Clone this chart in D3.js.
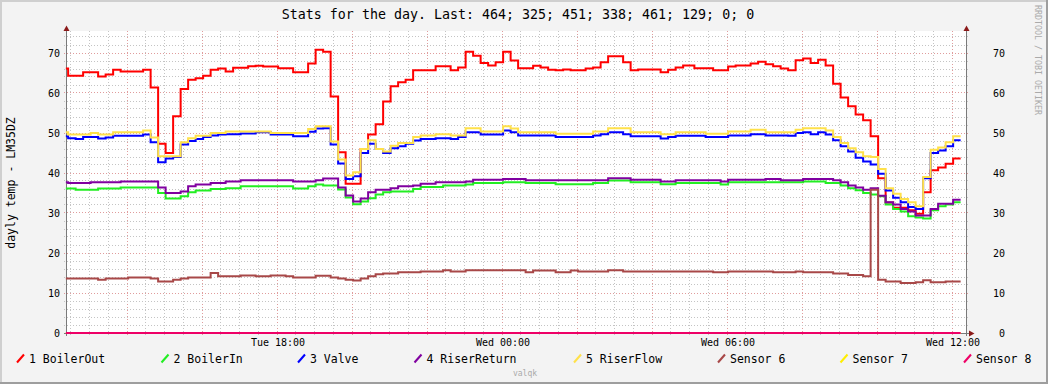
<!DOCTYPE html>
<html><head><meta charset="utf-8">
<script src="https://cdn.jsdelivr.net/npm/d3@7"></script>
<style>
html,body{margin:0;padding:0;background:#F3F3F3;}
svg{display:block;}
text{font-family:"DejaVu Sans Mono",monospace;}
</style>
</head><body>
<svg id="chart" width="1048" height="384"></svg>
<script>
// ---------------- DATA ----------------
const titleText = "Stats for the day. Last: 464; 325; 451; 338; 461; 129; 0; 0";
const yAxisTitle = "dayly temp - LM35DZ";
const seriesNames = ["1 BoilerOut","2 BoilerIn","3 Valve","4 RiserReturn","5 RiserFlow","Sensor 6","Sensor 7","Sensor 8"];
const yTickValues = [0,10,20,30,40,50,60,70];
const xTickHours = [18,24,30,36];           // hours since Tue 00:00
const xTickLabels = ["Tue 18:00","Wed 00:00","Wed 06:00","Wed 12:00"];
const timeStart = 12.3733, timeEnd = 36.3733; // window shown (hours since Tue 00:00)

// [hours since Tue 00:00, value]
const boilerOut = [[12.37,66.1],[12.43,64.3],[12.83,65.2],[13.23,64.1],[13.43,64.6],[13.63,65.8],[13.83,65.4],[14.43,65.8],[14.63,61.4],[14.83,47.3],[15.03,45],[15.23,54.2],[15.43,61],[15.63,63.3],[15.83,63.7],[16.03,64.3],[16.23,65.8],[16.43,66.1],[16.63,65.4],[16.83,66.3],[17.23,66.7],[17.43,66.8],[17.63,66.6],[18.03,66.2],[18.43,65.2],[18.83,67.4],[19.03,70.8],[19.23,70.3],[19.43,59.1],[19.63,45.2],[19.83,37.3],[20.23,46],[20.43,49.6],[20.63,52.2],[20.83,57.9],[21.03,61.7],[21.23,62.7],[21.43,63.3],[21.63,65.7],[22.23,66.7],[22.63,65.7],[22.83,66.4],[23.03,70.3],[23.23,69.3],[23.43,67.5],[23.63,66.9],[23.83,67.7],[24.03,70.3],[24.23,68.1],[24.43,66.2],[24.83,66.8],[25.03,66.4],[25.23,65.8],[25.43,65.7],[25.63,65.9],[25.83,65.7],[26.23,66.1],[26.43,66.4],[26.63,67.7],[26.83,69.2],[27.23,67.7],[27.43,65.7],[27.63,65.9],[28.23,65.2],[28.43,65.8],[28.63,66.4],[28.83,66.9],[29.13,66.2],[29.63,65.7],[30.03,66.6],[30.23,66.9],[30.63,67.4],[30.83,67.8],[31.03,67.2],[31.23,66.7],[31.43,66.1],[31.63,65.7],[31.83,68.2],[32.03,68.6],[32.23,67.5],[32.43,68.3],[32.63,66.9],[32.83,62.3],[33.03,58.9],[33.23,56.7],[33.43,54.6],[33.63,53.2],[33.83,49.2],[34.03,38.7],[34.23,32.6],[34.43,31.3],[34.83,30.7],[35.03,29.8],[35.23,35.2],[35.43,40.7],[35.63,41.4],[35.83,42.3],[36.03,43.6],[36.23,43.6]];

const boilerIn = [[12.37,36.1],[12.63,35.8],[13.23,36.1],[13.83,36.4],[14.83,35],[15.03,33.6],[15.43,34.2],[15.63,35.2],[15.83,35.6],[16.23,36],[16.63,36.2],[17.03,36.7],[18.43,36.1],[18.83,36.7],[19.03,37.1],[19.23,36.9],[19.63,35.9],[19.83,33.9],[20.03,32.2],[20.23,32.9],[20.43,33.7],[20.63,34.6],[20.83,35.2],[21.03,35.4],[21.63,36],[21.83,36.5],[22.43,36.9],[23.03,37.1],[23.23,37.5],[24.03,37.7],[24.63,37.5],[25.43,37.2],[26.43,37.5],[26.83,38.1],[27.43,37.7],[28.23,37.2],[28.63,37.5],[29.83,37.1],[30.03,37.7],[32.03,37.9],[32.63,37.5],[33.03,36.9],[33.23,36.2],[33.43,35.7],[33.63,35],[33.83,34.6],[34.03,34.2],[34.23,32.1],[34.43,31],[34.63,30.4],[34.83,29.2],[35.03,28.9],[35.23,28.6],[35.43,30.7],[35.63,31.7],[35.83,32.1],[36.03,32.7],[36.23,32.7]];

const valve = [[12.37,49.2],[12.43,48.7],[12.63,48.5],[12.83,49],[13.23,48.6],[13.43,48.9],[13.63,49.3],[14.43,49.6],[14.63,47.7],[14.83,42.7],[15.03,43.6],[15.23,44],[15.43,47.1],[15.63,48],[15.83,48.5],[16.03,49],[16.23,49.4],[16.43,49.6],[16.63,49.7],[17.03,49.9],[17.43,50.2],[17.83,49.6],[18.43,49.2],[18.83,50.3],[19.03,51.1],[19.23,51.2],[19.43,47.1],[19.63,42.4],[19.83,38.5],[20.03,39.2],[20.23,45],[20.43,47.3],[20.63,46],[20.83,45],[21.03,46.2],[21.23,46.7],[21.43,47.3],[21.63,48.1],[21.83,48.5],[22.23,48.7],[22.63,48.5],[22.83,49],[23.03,50.2],[23.43,49.6],[24.03,50.6],[24.23,50.2],[24.43,49.4],[25.43,49],[26.43,49.4],[26.63,49.7],[26.83,50.2],[27.23,49.7],[27.43,49.2],[28.23,48.6],[28.43,49],[28.63,49.3],[29.43,49],[30.03,49.4],[30.63,49.7],[31.03,49.4],[31.63,49.3],[31.83,50],[32.03,50.2],[32.23,49.7],[32.43,50.2],[32.63,49.6],[32.83,48.2],[33.03,46.7],[33.23,45.4],[33.43,43.8],[33.63,42.9],[33.83,42.1],[34.03,39.8],[34.23,35.6],[34.43,33.8],[34.63,32.7],[34.83,31.5],[35.03,31],[35.23,38.7],[35.43,45],[35.63,45.6],[35.83,46.7],[36.03,48.2],[36.23,48.2]];

const riserReturn = [[12.37,37.7],[12.43,37.5],[13.03,37.7],[13.83,37.9],[14.83,36.4],[15.03,35],[15.43,35.4],[15.63,36.7],[15.83,37.1],[16.23,37.5],[16.63,37.9],[17.03,38.2],[18.43,37.9],[19.03,38.2],[19.23,38.6],[19.63,36.4],[19.83,34.4],[20.03,32.9],[20.23,33.6],[20.43,35.2],[20.63,35.8],[21.03,36.2],[21.23,36.7],[21.63,36.9],[21.83,37.3],[22.23,37.7],[23.03,37.9],[23.23,38.3],[24.03,38.5],[24.63,38.2],[26.83,38.7],[27.43,38.3],[28.23,37.9],[28.63,38.2],[29.83,37.9],[30.03,38.3],[31.03,38.5],[31.43,38.2],[32.03,38.5],[32.83,38.2],[33.03,37.7],[33.23,36.9],[33.43,36.4],[33.63,35.8],[33.83,36.2],[34.03,34.3],[34.23,32.7],[34.43,32.1],[34.63,31],[34.83,30.4],[35.03,29.4],[35.43,31],[35.63,32.3],[36.03,33.3],[36.23,33.3]];

const riserFlow = [[12.37,50.2],[12.43,49.6],[13.03,50],[13.23,49.6],[13.63,50.2],[14.43,50.6],[14.63,48.9],[14.83,44.2],[15.43,47.7],[15.63,48.7],[15.83,49.3],[16.23,50],[16.63,50.4],[17.83,50],[18.83,51],[19.03,51.7],[19.43,47.9],[19.63,43.4],[19.83,39.4],[20.03,40.2],[20.23,46],[20.43,48.2],[20.63,46],[20.83,45.4],[21.03,46.8],[21.23,47.5],[21.63,49],[21.83,49.4],[22.23,49.7],[22.63,49.4],[23.03,51.2],[23.43,50.4],[24.03,51.7],[24.23,51.1],[24.43,50.2],[25.43,49.8],[26.43,50.4],[26.83,51.2],[27.43,50.2],[28.23,49.7],[28.63,50.2],[29.43,49.8],[30.03,50.4],[30.63,50.8],[31.03,50.2],[31.83,50.8],[32.03,51.2],[32.63,50.6],[32.83,49],[33.03,47.5],[33.23,46.2],[33.43,45.2],[33.63,44.2],[33.83,44],[34.03,41],[34.23,36.2],[34.43,34.8],[34.63,33.5],[34.83,32.7],[35.03,31.7],[35.23,39],[35.43,45.8],[35.63,46.4],[35.83,47.7],[36.03,49.2],[36.23,49.2]];

const sensor6 = [[12.37,13.6],[13.23,13.3],[13.43,13.6],[14.03,13.9],[14.63,13.6],[14.83,12.9],[15.23,13.3],[15.43,13.6],[15.63,13.9],[16.23,15],[16.43,14.2],[17.03,14.4],[17.43,14.2],[17.83,14.4],[18.23,14.2],[18.43,13.9],[19.03,14.3],[19.43,13.9],[19.63,13.6],[19.83,13.3],[20.03,13.1],[20.23,13.6],[20.43,14.2],[20.63,14.7],[20.83,14.9],[21.23,15.2],[21.83,15.4],[22.43,15.7],[22.63,15.4],[23.03,15.7],[24.63,15.2],[24.83,15.6],[25.43,15.2],[25.83,15.6],[26.03,15.4],[26.83,15.7],[27.23,15.4],[29.63,15.2],[30.03,15.4],[31.23,15.2],[31.83,15.4],[32.03,15.2],[32.83,14.9],[33.23,14.5],[33.63,14.2],[33.83,35.8],[34.03,13.3],[34.23,12.9],[34.63,12.5],[35.03,12.7],[35.23,13.2],[35.43,12.7],[35.83,12.9],[36.23,12.9]];

const sensor7 = [[12.37,0],[36.23,0]];
const sensor8 = [[12.37,0],[36.23,0]];

// ---------------- STYLE / LAYOUT ----------------
const seriesColors = ["#FF0000","#22EE22","#0000FF","#8000A0","#FFE14A","#A84848","#FFEE00","#EE0066"];
const legendX = [29,173.5,310,426.5,586,730,852.5,976];
const seriesData = [boilerOut, boilerIn, valve, riserReturn, riserFlow, sensor6, sensor7, sensor8];

const base = new Date(2013,0,1).getTime(); // a Tuesday
const toDate = h => new Date(base + h*3600000);

const svg = d3.select("#chart");
const W = 1048, H = 384;
const L = 66, R = 966, T = 31, B = 333;

const x = d3.scaleTime().domain([toDate(timeStart), toDate(timeEnd)]).range([L, R]);
const y = d3.scaleLinear().domain([0,75]).range([B, B-300]);

// background + frame
svg.append("rect").attr("x",0).attr("y",0).attr("width",W).attr("height",H).attr("fill","#F3F3F3");
svg.append("rect").attr("x",0).attr("y",0).attr("width",W).attr("height",2).attr("fill","#CFCFCF");
svg.append("rect").attr("x",0).attr("y",0).attr("width",2).attr("height",H).attr("fill","#CFCFCF");
svg.append("rect").attr("x",0).attr("y",H-2).attr("width",W).attr("height",2).attr("fill","#9E9E9E");
svg.append("rect").attr("x",W-2).attr("y",0).attr("width",2).attr("height",H).attr("fill","#9E9E9E");

// canvas
svg.append("rect").attr("x",L).attr("y",T).attr("width",R-L).attr("height",B-T).attr("fill","#FFFFFF");

const grid = svg.append("g").attr("shape-rendering","crispEdges");
const minorCol = "#C4C4C4", majorCol = "#E09C9C";
const dash = "1,2";
const d0 = toDate(timeStart), d1 = toDate(timeEnd);
// vertical minor (30 min) and major (2 h)
d3.timeMinute.every(30).range(d0, d1).forEach(t => {
  const px = Math.floor(x(t)) + 0.5;
  grid.append("line").attr("x1",px).attr("x2",px).attr("y1",T).attr("y2",B+3)
    .attr("stroke",minorCol).attr("stroke-dasharray",dash);
});
d3.timeHour.every(2).range(d0, d1).forEach(t => {
  const px = Math.floor(x(t)) + 0.5;
  grid.append("line").attr("x1",px).attr("x2",px).attr("y1",T).attr("y2",B+3)
    .attr("stroke",majorCol).attr("stroke-dasharray",dash);
});
// horizontal minor (2) and major (10)
d3.range(2,76,2).filter(v => v % 10 !== 0).forEach(v => {
  const py = Math.floor(y(v)) + 0.5;
  grid.append("line").attr("x1",L-2).attr("x2",R+2).attr("y1",py).attr("y2",py)
    .attr("stroke",minorCol).attr("stroke-dasharray",dash);
});
yTickValues.filter(v => v > 0).forEach(v => {
  const py = Math.floor(y(v)) + 0.5;
  grid.append("line").attr("x1",L-2).attr("x2",R+2).attr("y1",py).attr("y2",py)
    .attr("stroke",majorCol).attr("stroke-dasharray",dash);
});

// axes lines
const axisCol = "#7A7A7A", arrowCol = "#8B1A1A";
const axes = svg.append("g").attr("shape-rendering","crispEdges");
axes.append("line").attr("x1",L+0.5).attr("x2",L+0.5).attr("y1",27).attr("y2",B+3).attr("stroke",axisCol);
axes.append("line").attr("x1",R+0.5).attr("x2",R+0.5).attr("y1",27).attr("y2",B+3).attr("stroke",axisCol);
axes.append("line").attr("x1",L-2).attr("x2",972).attr("y1",B+0.5).attr("y2",B+0.5).attr("stroke",axisCol);
// arrows
svg.append("path").attr("d",`M${L-2.5},${31}L${L+3.5},${31}L${L+0.5},${25.5}Z`).attr("fill",arrowCol);
svg.append("path").attr("d",`M${R-2.5},${31}L${R+3.5},${31}L${R+0.5},${25.5}Z`).attr("fill",arrowCol);
svg.append("path").attr("d",`M969,${B-2.5}L969,${B+3.5}L974.5,${B+0.5}Z`).attr("fill",arrowCol);

// data lines
const line = d3.line().curve(d3.curveStepAfter)
  .x(d => x(toDate(d[0]))).y(d => y(d[1]));
const plot = svg.append("g");
seriesData.forEach((s, i) => {
  plot.append("path").datum(s).attr("d", line)
    .attr("fill","none").attr("stroke",seriesColors[i]).attr("stroke-width",2)
    .attr("stroke-linejoin","miter").attr("stroke-linecap","butt");
});

// y tick labels (left & right)
const lab = svg.append("g").attr("font-size","10px").attr("fill","#000");
yTickValues.forEach(v => {
  lab.append("text").attr("x",60).attr("y",y(v)+4).attr("text-anchor","end").text(v);
  lab.append("text").attr("x",1005).attr("y",y(v)+4).attr("text-anchor","end").text(v);
});
// x tick labels
xTickHours.forEach((h, i) => {
  lab.append("text").attr("x",Math.floor(x(toDate(h)))+1).attr("y",346).attr("text-anchor","middle").text(xTickLabels[i]);
});

// title
svg.append("text").attr("x",518).attr("y",18.5).attr("text-anchor","middle")
  .attr("font-size","13.3px").attr("fill","#000").text(titleText);

// y axis title
svg.append("text").attr("transform","translate(15,183) rotate(-90)")
  .attr("text-anchor","middle").attr("font-size","11.5px").attr("fill","#000").text(yAxisTitle);

// watermark side
svg.append("text").attr("transform","translate(1035,5) rotate(90)")
  .attr("text-anchor","start").attr("font-size","8.3px").attr("fill","#AAAAAA").text("RRDTOOL / TOBI OETIKER");
svg.append("text").attr("x",525).attr("y",376).attr("text-anchor","middle")
  .attr("font-size","8px").attr("fill","#AAAAAA").text("valqk");

// legend
const leg = svg.append("g");
seriesNames.forEach((n, i) => {
  const tx = legendX[i];
  leg.append("line").attr("x1",tx-12).attr("y1",362.5).attr("x2",tx-5).attr("y2",354.5)
    .attr("stroke",seriesColors[i]).attr("stroke-width",2);
  leg.append("text").attr("x",tx).attr("y",363).attr("font-size","11.5px").attr("fill","#000").text(n);
});
</script>
</body></html>
